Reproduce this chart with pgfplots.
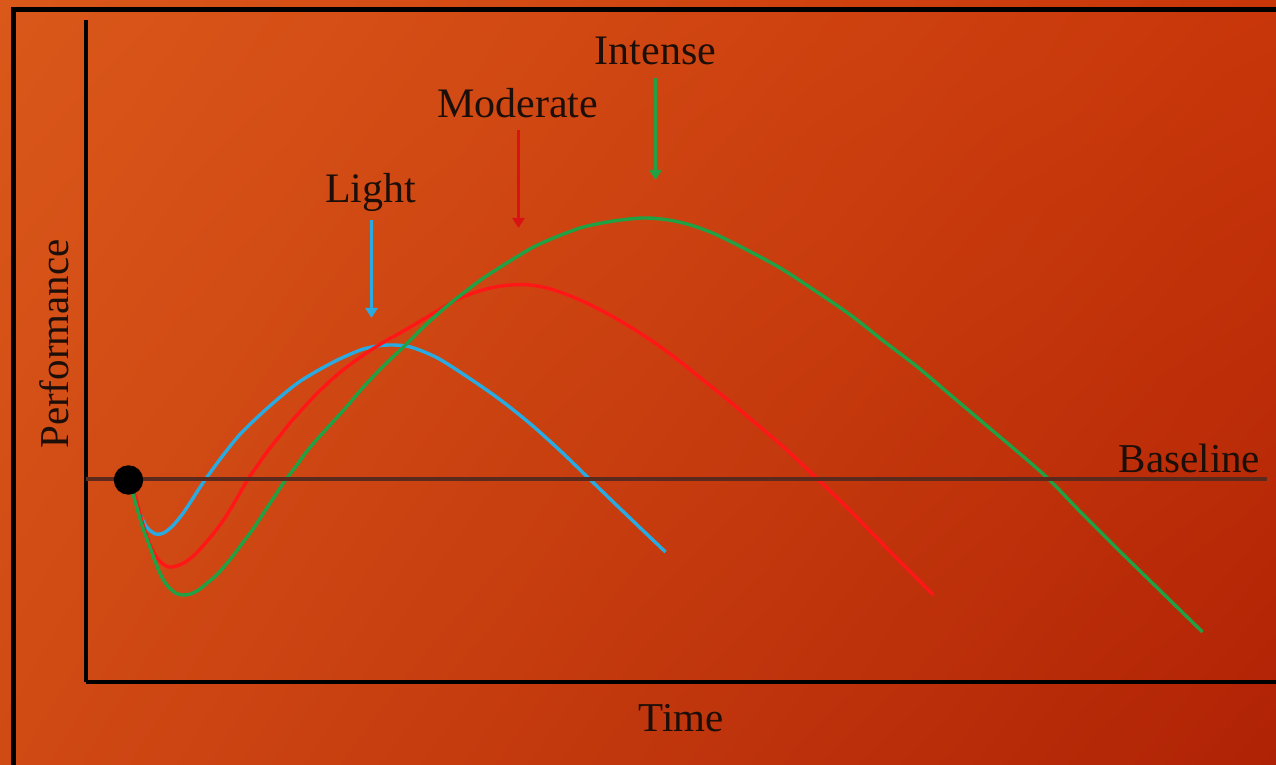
\documentclass[border=0pt]{standalone}
\usepackage{pgfplots}
\pgfplotsset{compat=1.18}
\usepackage{fontspec}
\setmainfont{Liberation Serif}
\usetikzlibrary{arrows.meta,shadings}
\definecolor{bgTL}{RGB}{218,88,26}
\definecolor{bgTR}{RGB}{200,54,10}
\definecolor{bgBL}{RGB}{208,74,20}
\definecolor{bgBR}{RGB}{176,34,5}
\definecolor{cLight}{RGB}{41,170,225}
\definecolor{cMod}{RGB}{255,22,22}
\definecolor{cInt}{RGB}{34,160,68}
\definecolor{cBase}{RGB}{92,42,28}
\definecolor{cText}{RGB}{28,14,8}
\begin{document}
\begin{tikzpicture}[font=\fontsize{20.5}{24}\selectfont]
\shade[upper left=bgTL, upper right=bgTR, lower left=bgBL, lower right=bgBR] (0,0) rectangle (638pt,382.5pt);
\draw[line width=2.5pt] (6.75pt,0) -- (6.75pt,377.5pt) -- (640pt,377.5pt);
\begin{axis}[
  at={(42.75pt,41.5pt)}, anchor=south west,
  x=0.5pt, y=0.5pt,
  xmin=0, xmax=1190.5, ymin=0, ymax=662,
  axis lines=left,
  axis line style={-, line width=2pt, black},
  ticks=none,
  clip=false,
  xlabel={Time}, ylabel={Performance},
  xlabel style={at={(axis cs:596,-50)}, anchor=base, text=cText},
  ylabel style={at={(axis cs:-17,338)}, anchor=base, text=cText},
  every axis plot/.append style={line width=1.7pt},
]
% Light
\addplot[cLight, smooth, tension=0.5] coordinates {
(46,194) (50,182) (55,167) (61,155) (70,148) (78,149) (87,156) (97,168)
(107,183) (118,200) (137,226) (153,246) (170,263) (190,281) (215,301)
(248,320) (275,332) (292,336) (307,337) (325,335) (352,324) (385,303)
(415,282) (445,258) (475,231) (505,202) (535,173) (580,130)};
% Moderate
\addplot[cMod, smooth, tension=0.5] coordinates {
(46,194) (50,185) (57,159) (62,144) (67,132) (74,121) (83,115) (91,116)
(100,120) (110,128) (120,139) (130,151) (140,165) (151,183) (162,202)
(173,218) (183,232) (195,247) (207,262) (232,289) (255,310) (278,327)
(300,341) (318,351) (340,364) (365,379) (385,388) (405,394) (425,397)
(445,397) (465,393) (490,384) (515,372) (540,358) (565,342) (590,324)
(615,304) (640,284) (665,263) (698,235) (732,203) (765,171) (805,130) (848,87)};
% Intense
\addplot[cInt, smooth, tension=0.5] coordinates {
(46,194) (52,172) (58,152) (63,139) (68,125) (73,112) (78,102) (83,95)
(90,89) (97,87) (105,88) (113,92) (123,100) (133,109) (145,123) (157,139)
(169,155) (180,172) (190,187) (200,202) (210,215) (220,229) (230,241)
(240,252) (260,274) (278,295) (298,316) (318,335) (338,355) (358,373)
(378,389) (398,404) (423,420) (448,435) (473,446) (498,455) (528,461)
(558,464) (583,462) (605,457) (627,449) (648,439) (673,426) (698,412)
(730,391) (765,367) (798,341) (832,315) (865,287) (898,259) (930,232)
(962,204) (995,170) (1032,133) (1075,91) (1117,50)};
% Baseline
\addplot[cBase, line width=2pt] coordinates {(0,202.5) (1181,202.5)};
% Start point
\addplot[only marks, mark=*, mark size=6.5pt, black] coordinates {(43,202)};
% Labels and arrows
\node[anchor=base, text=cText, font=\fontsize{21}{24}\selectfont] at (axis cs:285,479) {Light};
\draw[cLight, line width=1.5pt, -{Triangle[width=6pt,length=5pt]}] (axis cs:286,462) -- (axis cs:286,364);
\node[anchor=base, text=cText, font=\fontsize{21}{24}\selectfont] at (axis cs:432,564) {Moderate};
\draw[cMod!85!black, line width=1.5pt, -{Triangle[width=6pt,length=5pt]}] (axis cs:433,552) -- (axis cs:433,454);
\node[anchor=base, text=cText, font=\fontsize{21}{24}\selectfont] at (axis cs:570,617) {Intense};
\draw[cInt, line width=1.5pt, -{Triangle[width=6pt,length=5pt]}] (axis cs:570,604) -- (axis cs:570,502);
\node[anchor=base east, inner sep=0pt, text=cText] at (axis cs:1175,209) {Baseline};
\end{axis}
\pgfresetboundingbox
\path[use as bounding box] (0,0) rectangle (638pt,382.5pt);
\end{tikzpicture}
\end{document}
